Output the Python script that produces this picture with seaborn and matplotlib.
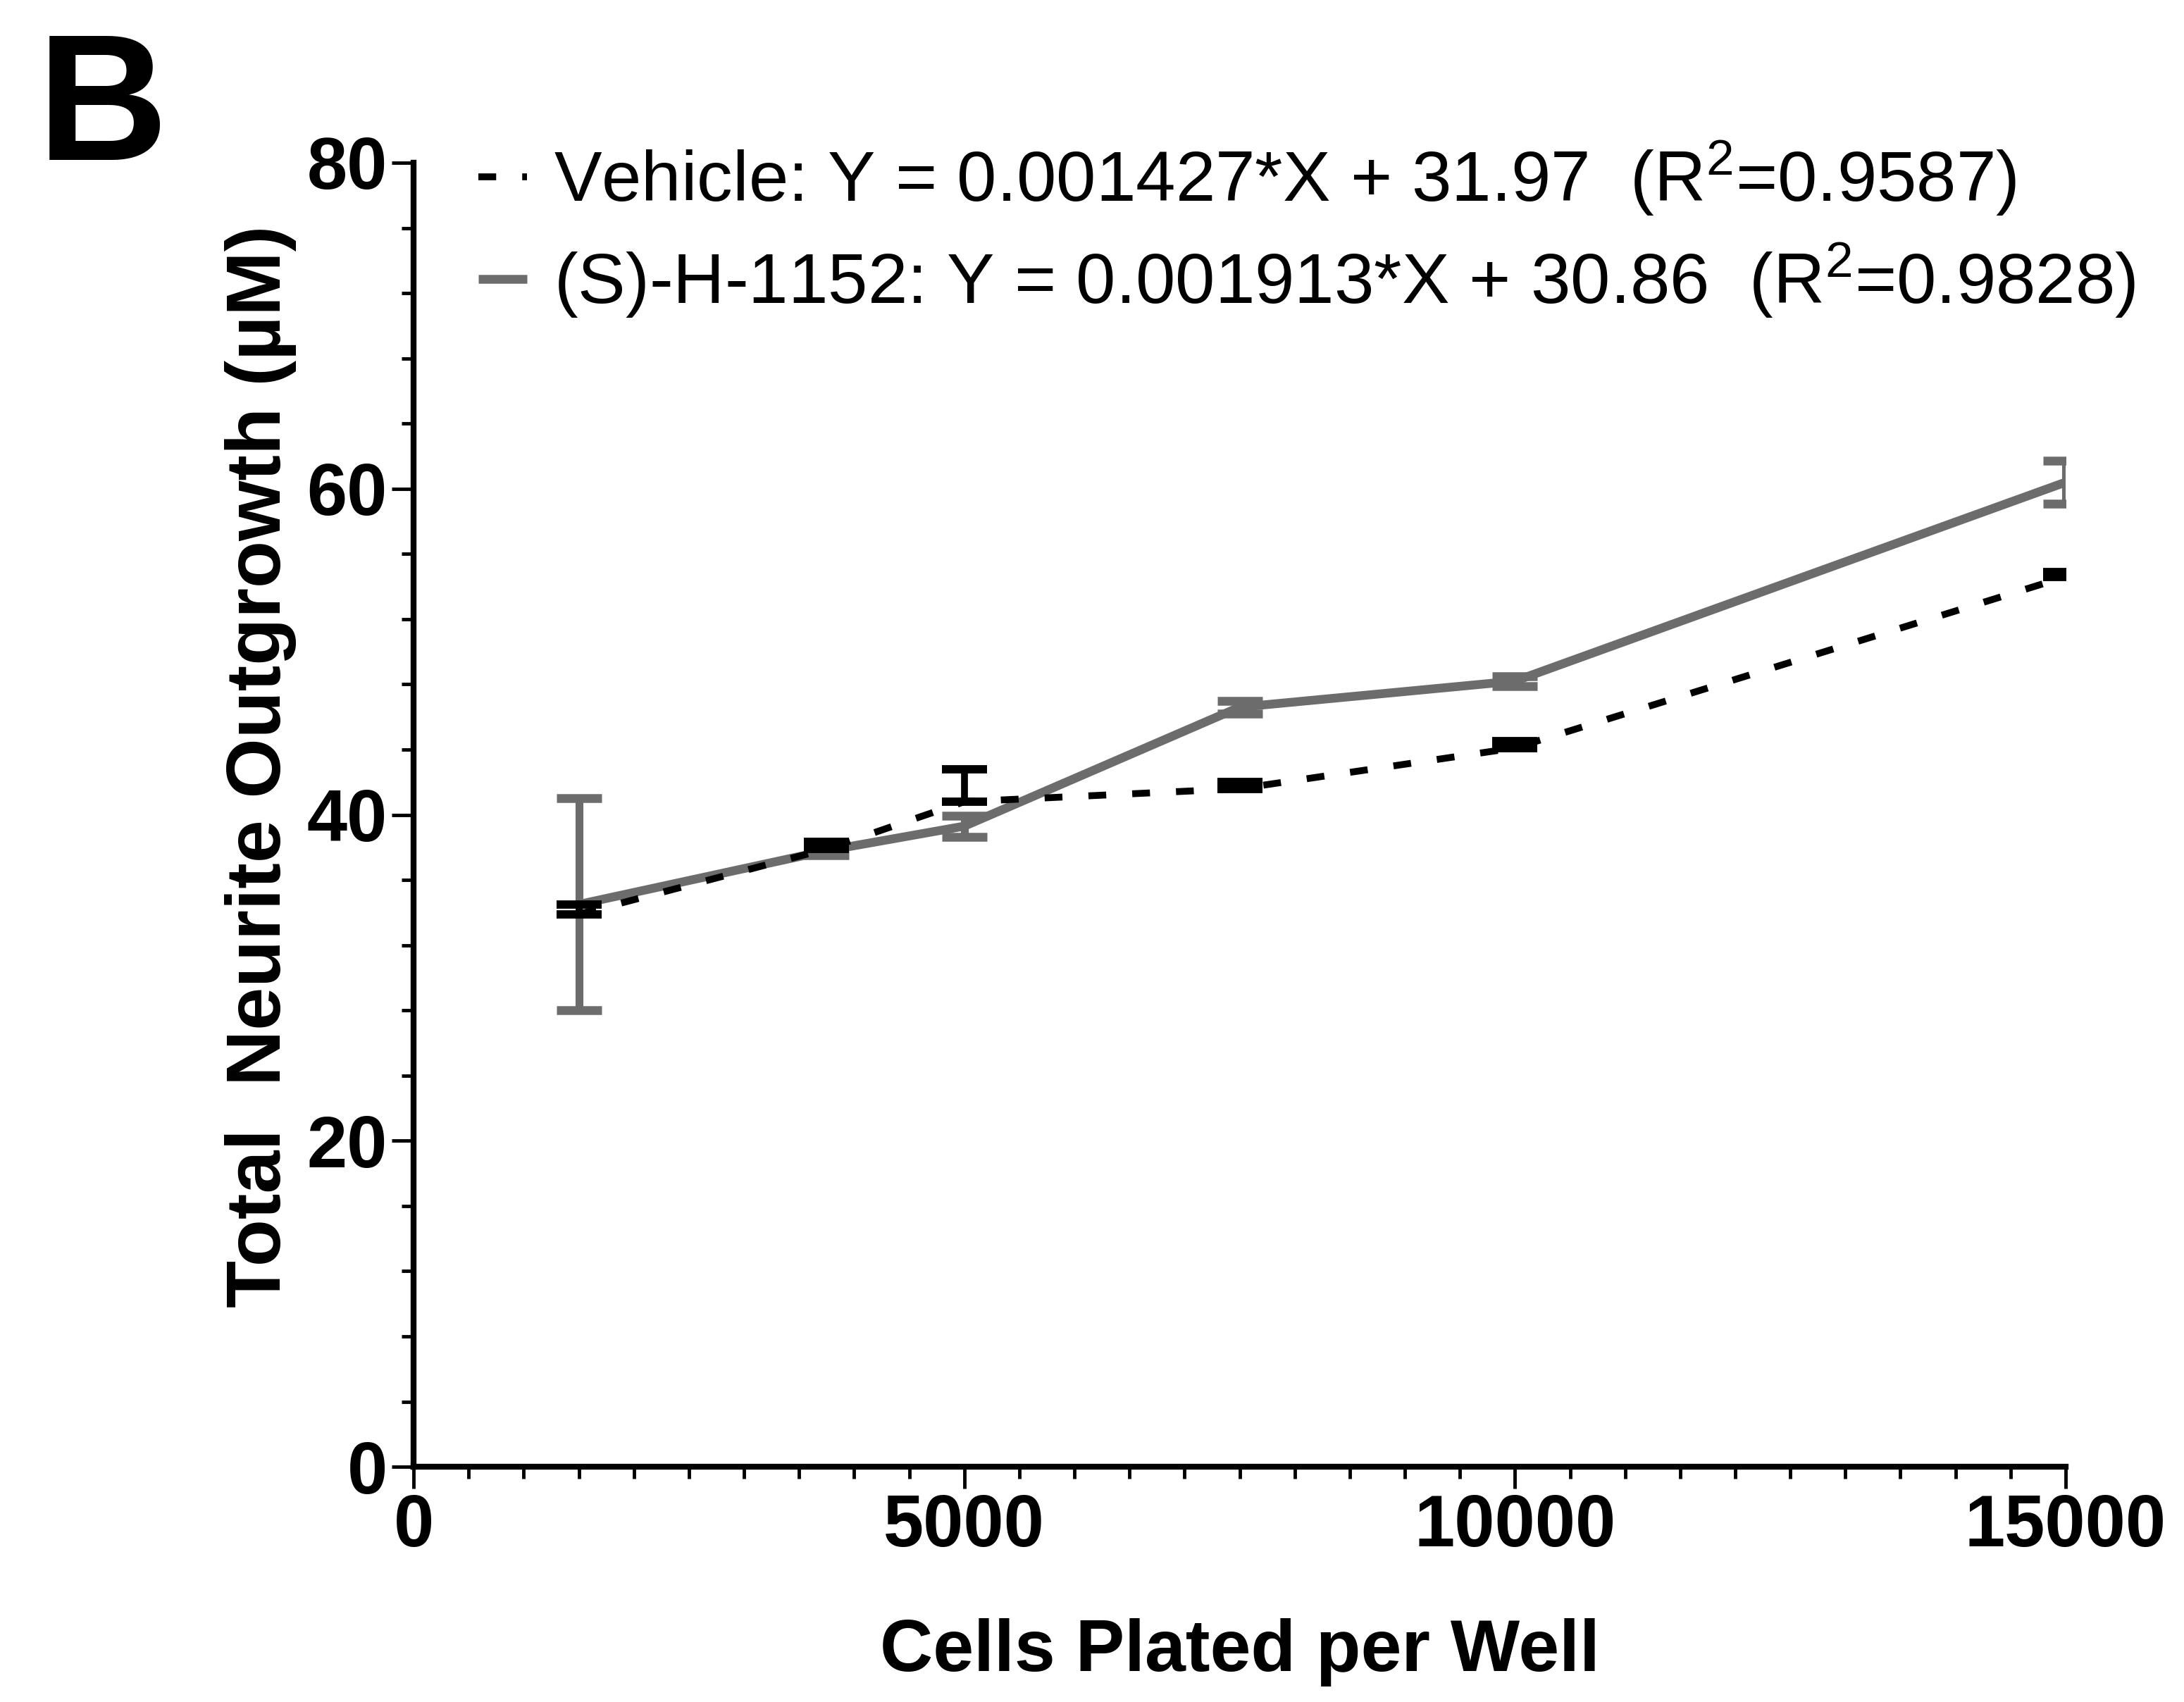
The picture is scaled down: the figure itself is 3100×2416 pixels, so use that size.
import pandas as pd
import matplotlib.pyplot as plt
import seaborn as sns

# values
cells = [1500, 3750, 5000, 7500, 10000, 15000]
vehicle_mean = [33.9, 37.9, 40.8, 41.6, 44.1, 54.6]
vehicle_err = [0.6, 0.45, 2.0, 0.4, 0.4, 0.3]      # drawn above only
h1152_mean = [34.5, 37.8, 39.3, 46.6, 48.2, 60.4]
h1152_err = [6.5, 0.3, 0.65, 0.4, 0.3, 1.3]

vehicle_label = 'Vehicle: Y = 0.001427*X + 31.97  (R$^{2}$=0.9587)'
h1152_label = '(S)-H-1152: Y = 0.001913*X + 30.86  (R$^{2}$=0.9828)'

GRAY = '#6c6c6c'

sns.set_style('ticks')
plt.rcParams['font.family'] = ['Liberation Sans', 'DejaVu Sans']
plt.rcParams['mathtext.fontset'] = 'custom'
plt.rcParams['mathtext.rm'] = 'Liberation Sans'
plt.rcParams['mathtext.it'] = 'Liberation Sans'
for k in ['text.color', 'axes.labelcolor', 'xtick.color', 'ytick.color', 'axes.edgecolor']:
    plt.rcParams[k] = 'black'

df = pd.DataFrame({'cells': cells * 2,
                   'outgrowth': vehicle_mean + h1152_mean,
                   'group': ['Vehicle'] * 6 + ['H1152'] * 6})

fig = plt.figure(figsize=(31, 24.16), dpi=100)
ax = fig.add_axes([0.1894, 0.1382, 0.7564, 0.7662])

# gray series first, vehicle drawn over it
sns.lineplot(data=df[df['group'] == 'H1152'], x='cells', y='outgrowth', ax=ax,
             color=GRAY, linewidth=9, label=h1152_label)
ax.errorbar(cells, h1152_mean, yerr=h1152_err, fmt='none', ecolor=GRAY,
            elinewidth=8, capsize=23, capthick=9)

sns.lineplot(data=df[df['group'] == 'Vehicle'], x='cells', y='outgrowth', ax=ax,
             color='black', linewidth=7, label=vehicle_label)
ax.lines[-1].set_dashes((2.6, 3.8))
ax.errorbar(cells, vehicle_mean, yerr=[[0] * 6, vehicle_err], fmt='none',
            ecolor='black', elinewidth=7, capsize=23, capthick=8.5)

ax.set_xlim(0, 15000)
ax.set_ylim(0, 80)
ax.set_xticks([0, 5000, 10000, 15000])
ax.set_xticks(range(0, 15001, 500), minor=True)
ax.set_yticks([0, 20, 40, 60, 80])
ax.set_yticks(range(0, 81, 4), minor=True)
sns.despine(ax=ax)
for s in ['left', 'bottom']:
    ax.spines[s].set_linewidth(6)
ax.tick_params(which='major', length=22, width=3.5, labelsize=74, pad=5)
ax.tick_params(which='minor', length=12, width=3.5)
for lab in ax.get_xticklabels() + ax.get_yticklabels():
    lab.set_fontweight('bold')

ax.set_xlabel('Cells Plated per Well', fontsize=75, fontweight='bold', labelpad=58)
ax.set_ylabel('Total  Neurite Outgrowth (µM)', fontsize=79, fontweight='bold', labelpad=10)
ax.yaxis.label.set_y(0.537)

# legend: vehicle on top
h, l = ax.get_legend_handles_labels()
leg = ax.legend(h[::-1], l[::-1], loc='upper left', bbox_to_anchor=(0.206, 0.935),
                bbox_transform=fig.transFigure, frameon=False, handlelength=0.68,
                handletextpad=0.37, labelspacing=0.33, borderaxespad=0,
                prop={'size': 73})
for ln in leg.get_lines():
    ln.set_solid_capstyle('butt')
    ln.set_dash_capstyle('butt')

fig.text(0.017, 0.906, 'B', fontsize=185, fontweight='bold', va='baseline', ha='left')

fig.savefig('out.png', dpi=100)
